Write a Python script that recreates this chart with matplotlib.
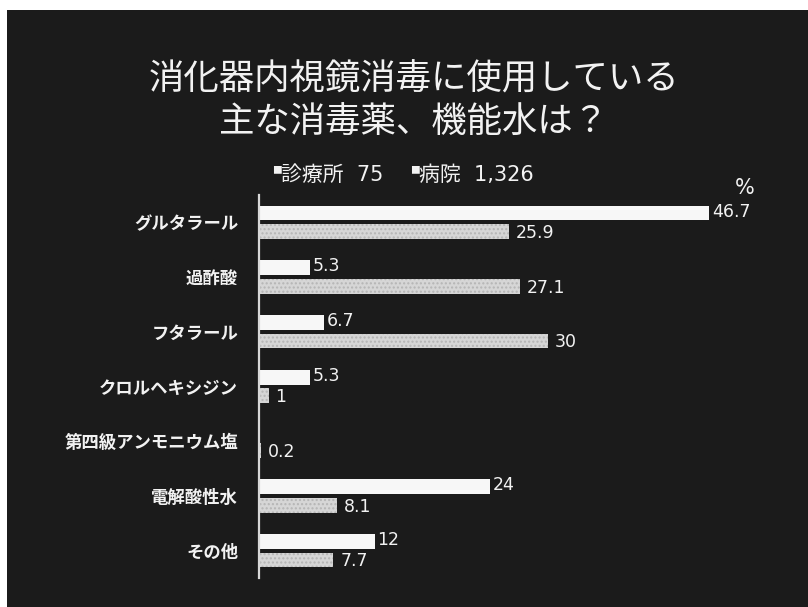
"""Disinfectants used for GI endoscope reprocessing: clinics vs hospitals."""

import matplotlib.pyplot as plt
import numpy as np
from matplotlib.patches import Rectangle

plt.rcParams["font.family"] = ["Noto Sans CJK JP", "DejaVu Sans"]

categories = ["グルタラール", "過酢酸", "フタラール", "クロルヘキシジン",
              "第四級アンモニウム塩", "電解酸性水", "その他"]
clinic = [46.7, 5.3, 6.7, 5.3, 0, 24, 12]
hospital = [25.9, 27.1, 30, 1, 0.2, 8.1, 7.7]
clinic_labels = ["46.7", "5.3", "6.7", "5.3", "", "24", "12"]
hospital_labels = ["25.9", "27.1", "30", "1", "0.2", "8.1", "7.7"]

title = "消化器内視鏡消毒に使用している\n主な消毒薬、機能水は？"

BG = "#1b1b1b"
FG = "#f2f2f2"
NUM_FONT = ["DejaVu Sans", "Noto Sans CJK JP"]

fig = plt.figure(figsize=(8.08, 6.07), dpi=100, facecolor="white")
fig.patches.append(Rectangle((7 / 808, 0), 1 - 7 / 808, 1 - 10 / 607,
                             transform=fig.transFigure, facecolor=BG,
                             edgecolor="none", zorder=-1))

ax = fig.add_axes([259 / 808, 1 - 578 / 607, 530 / 808, 383 / 607])
ax.set_facecolor("none")

y = np.arange(len(categories))
h = 0.27
off = 0.17
b1 = ax.barh(y - off, clinic, height=h, color="#f7f7f7", linewidth=0)
b2 = ax.barh(y + off, hospital, height=h, color="#d6d6d6", edgecolor="#b5b5b5",
             linewidth=0, hatch="....")

for bar, lab in zip(b1, clinic_labels):
    if lab:
        ax.annotate(lab, (bar.get_width(), bar.get_y() + bar.get_height() / 2),
                    xytext=(2, 1), textcoords="offset points", va="center",
                    ha="left", color=FG, fontsize=12.5, family=NUM_FONT)
for bar, lab in zip(b2, hospital_labels):
    ax.annotate(lab, (bar.get_width(), bar.get_y() + bar.get_height() / 2),
                xytext=(5, -1), textcoords="offset points", va="center",
                ha="left", color=FG, fontsize=12.5, family=NUM_FONT)

ax.set_xlim(0, 55)
ax.set_ylim(6.5, -0.5)
ax.set_yticks(y)
ax.set_yticklabels(categories, color=FG, fontsize=12.5, fontweight="bold")
ax.tick_params(axis="y", length=0, pad=15)
ax.set_xticks([])
for side in ["top", "right", "bottom"]:
    ax.spines[side].set_visible(False)
ax.spines["left"].set_color("#d8d8d8")
ax.spines["left"].set_linewidth(1.6)

fig.text(414 / 808, 1 - 101 / 607, title, ha="center", va="center", color=FG,
         fontsize=25.5, linespacing=1.25)

fig.text(272 / 808, 1 - 170 / 607, "■", color=FG, fontsize=7, ha="left", va="center")
fig.text(281 / 808, 1 - 175 / 607, "診療所  75", color=FG, fontsize=15,
         ha="left", va="center", family=NUM_FONT)
fig.text(410 / 808, 1 - 170 / 607, "■", color=FG, fontsize=7, ha="left", va="center")
fig.text(419 / 808, 1 - 175 / 607, "病院  1,326", color=FG, fontsize=15,
         ha="left", va="center", family=NUM_FONT)
fig.text(745 / 808, 1 - 188 / 607, "%", color=FG, fontsize=15, ha="center",
         va="center", family=NUM_FONT)

fig.savefig("out.png", dpi=100, facecolor=fig.get_facecolor())
